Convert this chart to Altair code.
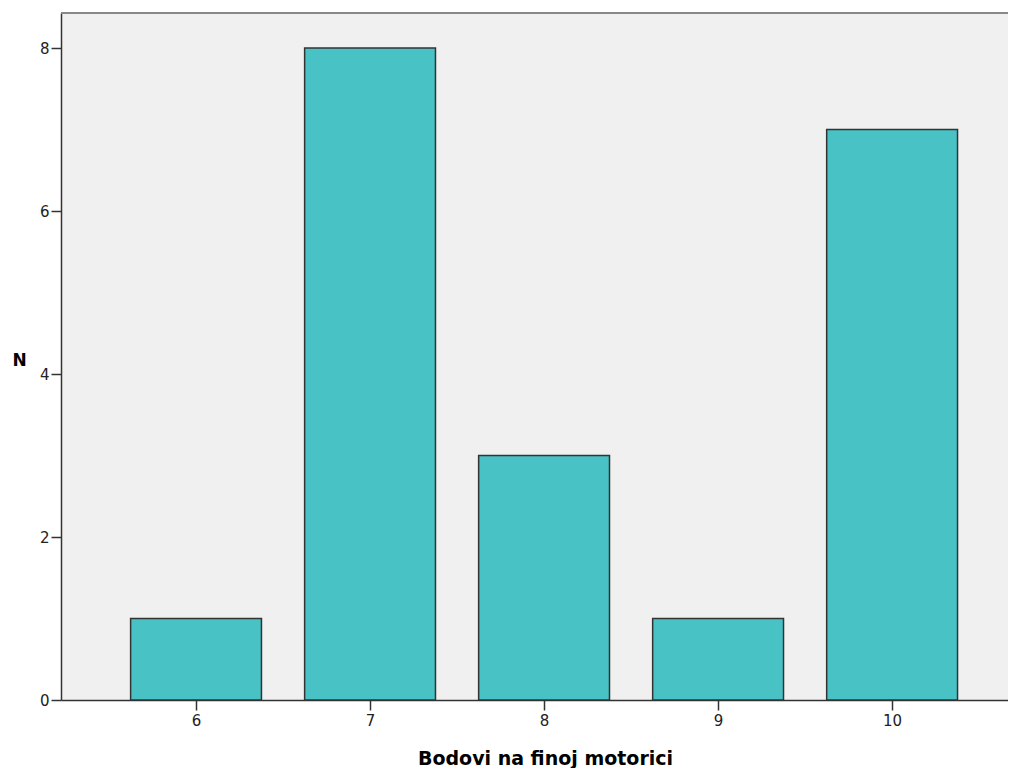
import altair as alt
import pandas as pd

scores = [6, 7, 8, 9, 10]
counts = [1, 8, 3, 1, 7]
y_ticks = [0, 2, 4, 6, 8]

df = pd.DataFrame({"score": scores, "n": counts})

W, H = 947, 687
half = 0.376
LABEL_FONT = "DejaVu Sans"

base = alt.Chart(df)

bars = base.transform_calculate(
    x0=f"datum.score - {half}", x1=f"datum.score + {half}"
).mark_bar(color="#48C2C5", stroke="#333333", strokeWidth=1.5).encode(
    x=alt.X("x0:Q", scale=alt.Scale(domain=[5.224, 10.666], nice=False, zero=False),
            axis=alt.Axis(values=scores, title="Bodovi na finoj motorici", grid=False,
                          domainColor="#333333", domainWidth=1.5, tickColor="#333333",
                          tickWidth=1.5, tickSize=10, labelPadding=3, labelFontSize=15,
                          labelColor="#222222", labelFont=LABEL_FONT,
                          titleFont="DejaVu Sans", titleFontSize=19, titleFontWeight="bold",
                          titleColor="#000000", titleX=484, titleY=58, titleAlign="center",
                          titleBaseline="middle")),
    x2="x1:Q",
    y=alt.Y("n:Q", scale=alt.Scale(domain=[0, 8.43], nice=False),
            axis=alt.Axis(values=y_ticks, title="N", grid=False, domainColor="#333333",
                          domainWidth=1.5, tickColor="#333333", tickWidth=1.5, tickSize=10,
                          labelPadding=2, labelFontSize=15, labelColor="#222222",
                          labelFont=LABEL_FONT, titleFont="DejaVu Sans",
                          titleFontSize=17, titleFontWeight="bold", titleColor="#000000",
                          titleAngle=0, titleX=-42, titleY=347, titleAlign="center",
                          titleBaseline="middle")),
    y2=alt.datum(0),
)

top_line = base.mark_rule(color="#888888", strokeWidth=2).encode(
    x=alt.value(0), x2=alt.value(W), y=alt.value(0)
)

chart = alt.layer(bars, top_line).properties(
    width=W, height=H,
    autosize=alt.AutoSizeParams(type="none"),
    padding={"left": 53, "top": 5, "right": 0, "bottom": 68},
).configure_view(fill="#f0f0f0", stroke=None)

chart.save("out.html", embed_options={"renderer": "svg", "actions": False})
